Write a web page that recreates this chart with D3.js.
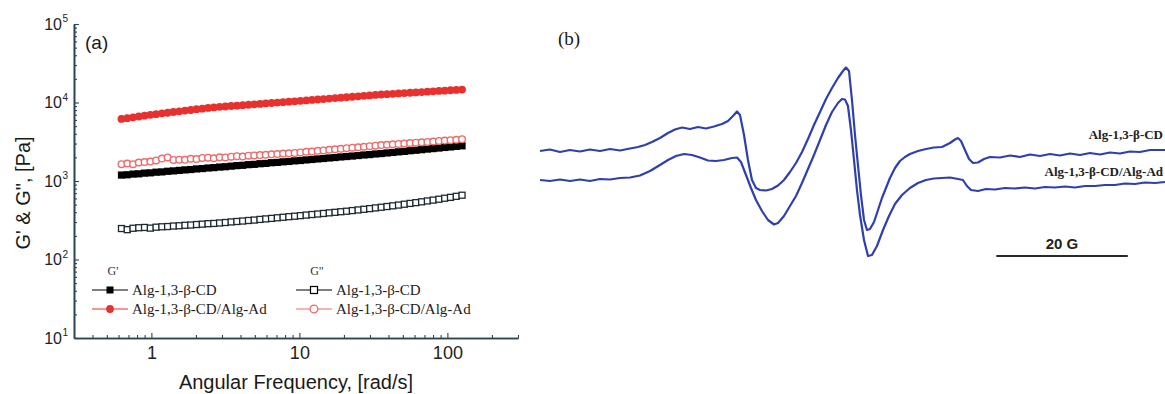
<!DOCTYPE html>
<html>
<head>
<meta charset="utf-8">
<script src="https://cdn.jsdelivr.net/npm/d3@7"></script>
<style>
  body { margin: 0; background: #fff; }
  svg { display: block; }
</style>
</head>
<body>
<div id="fig"></div>
<script>
// ---------- (a) frequency sweep ----------
let freq = [0.628, 0.687, 0.752, 0.822, 0.899, 0.984, 1.076, 1.178, 1.288, 1.409,
    1.542, 1.687, 1.845, 2.018, 2.208, 2.415, 2.642, 2.891, 3.162, 3.459,
    3.784, 4.140, 4.529, 4.955, 5.420, 5.929, 6.486, 7.096, 7.762, 8.492,
    9.290, 10.16, 11.12, 12.16, 13.30, 14.55, 15.92, 17.42, 19.05, 20.84,
    22.80, 24.95, 27.29, 29.85, 32.66, 35.73, 39.08, 42.76, 46.77, 51.17,
    55.98, 61.24, 66.99, 73.28, 80.17, 87.70, 95.94, 104.96, 114.8, 125.6];

// G' Alg-1,3-β-CD (filled squares)
let gpAlg = [1190, 1200, 1225, 1235, 1260, 1270, 1295, 1305, 1330, 1345,
    1365, 1385, 1400, 1425, 1440, 1465, 1480, 1505, 1520, 1545,
    1570, 1585, 1615, 1630, 1660, 1675, 1710, 1725, 1755, 1775,
    1805, 1825, 1855, 1880, 1910, 1935, 1965, 1990, 2025, 2050,
    2080, 2110, 2145, 2170, 2210, 2235, 2275, 2310, 2350, 2385,
    2430, 2465, 2505, 2550, 2585, 2630, 2675, 2715, 2760, 2805];

// G' Alg-1,3-β-CD/Alg-Ad (filled circles)
let gpAlgAd = [6170, 6320, 6480, 6630, 6800, 6960, 7110, 7270, 7400, 7570,
    7710, 7880, 8030, 8210, 8350, 8540, 8660, 8800, 8890, 9020,
    9110, 9250, 9360, 9480, 9600, 9720, 9850, 9970, 10090, 10240,
    10350, 10500, 10640, 10780, 10920, 11060, 11230, 11370, 11510, 11660,
    11840, 11990, 12160, 12310, 12470, 12650, 12760, 12910, 13040, 13180,
    13310, 13450, 13590, 13740, 13870, 14030, 14150, 14330, 14450, 14620];

// G" Alg-1,3-β-CD (open squares)
let gppAlg = [248, 240, 250, 254, 256, 251, 258, 261, 263, 267,
    269, 273, 275, 279, 282, 286, 288, 292, 296, 301,
    305, 309, 314, 318, 324, 329, 334, 340, 345, 351,
    356, 362, 368, 374, 380, 386, 393, 399, 406, 412,
    420, 428, 436, 445, 454, 463, 473, 483, 494, 506,
    518, 530, 543, 557, 571, 586, 603, 619, 638, 659];

// G" Alg-1,3-β-CD/Alg-Ad (open circles)
let gppAlgAd = [1640, 1670, 1640, 1720, 1740, 1770, 1830, 1930, 1995, 1855,
    1870, 1860, 1920, 1905, 1970, 1985, 1950, 2005, 1995, 2040,
    2070, 2050, 2100, 2120, 2140, 2160, 2190, 2205, 2240, 2250,
    2280, 2315, 2355, 2375, 2420, 2455, 2500, 2535, 2570, 2620,
    2655, 2690, 2730, 2780, 2820, 2870, 2895, 2940, 2965, 3005,
    3040, 3075, 3110, 3150, 3185, 3235, 3275, 3310, 3355, 3410];

let xMajor = [1, 10, 100];
let xMinor = [0.4, 0.5, 0.6, 0.7, 0.8, 0.9, 2, 3, 4, 5, 6, 7, 8, 9,
    20, 30, 40, 50, 60, 70, 80, 90, 200, 300];
let yMajor = [10, 100, 1000, 10000, 100000];
let yMinor = [20, 30, 40, 50, 60, 70, 80, 90, 200, 300, 400, 500, 600, 700, 800, 900,
    2000, 3000, 4000, 5000, 6000, 7000, 8000, 9000,
    20000, 30000, 40000, 50000, 60000, 70000, 80000, 90000];

let legendHeads = ["G'", 'G"'];
let legendNames = ["Alg-1,3-β-CD", "Alg-1,3-β-CD/Alg-Ad"];

// ---------- (b) ESR spectra, field in G, signal in a.u. ----------
let topField = [0, 1.52, 3.04, 4.56, 6.08, 7.60, 9.13, 10.65, 12.17, 13.69,
    14.90, 15.97, 17.03, 18.25, 19.47, 20.53, 21.60, 22.81, 24.03, 25.25,
    26.46, 27.68, 28.59, 29.35, 29.96, 30.42, 31.03, 31.63, 32.24, 32.85,
    33.46, 34.37, 35.28, 36.20, 37.11, 38.02, 38.94, 39.85, 40.76, 41.67,
    42.59, 43.50, 44.41, 45.32, 46.08, 46.54, 47.00, 47.45, 47.91, 48.36,
    48.82, 49.28, 49.73, 50.19, 50.80, 51.41, 52.01, 52.62, 53.23, 53.99,
    54.75, 55.51, 56.27, 57.49, 58.71, 59.92, 61.14, 62.36, 63.12, 63.57,
    64.03, 64.64, 65.25, 65.86, 66.62, 67.53, 68.44, 69.96, 71.48, 73.00,
    74.52, 76.05, 77.57, 79.09, 80.61, 82.13, 83.65, 85.17, 86.69, 88.21,
    89.73, 91.25, 92.78, 95.06];
let topSignal = [24.5, 25.25, 24, 25, 24.25, 25.25, 24.5, 25.5, 24.75, 25.75,
    26.5, 27.5, 29, 31, 33.5, 35.25, 36.25, 35.5, 36.5, 35.75,
    36.75, 38, 39.5, 42, 44.25, 42.5, 32.5, 20, 10, 6,
    5, 4.75, 5.5, 7.25, 10, 14, 18.5, 24, 30.5, 37.5,
    44, 50.5, 56, 61, 64.5, 66.25, 64.5, 50, 32.5, 17.5,
    2.5, -10, -15, -14.5, -11, -5, 1, 6, 11, 16,
    19.5, 21.5, 23, 24.5, 25.5, 26.25, 26.5, 28.5, 30.25, 31,
    29.5, 25, 20.5, 18.5, 18.75, 20.5, 21.5, 21.25, 22.25, 21.5,
    22.75, 22, 23, 22.25, 23.25, 22.5, 23.5, 22.75, 23.75, 23.25,
    24.25, 24, 25, 25];

let botField = [0, 1.52, 3.04, 4.56, 6.08, 7.60, 9.13, 10.65, 12.17, 13.69,
    15.21, 16.73, 18.25, 19.47, 20.68, 21.90, 23.12, 24.33, 25.55, 26.77,
    27.98, 29.20, 29.96, 30.57, 31.33, 32.09, 32.85, 33.76, 34.68, 35.59,
    36.20, 37.11, 38.02, 38.94, 39.85, 40.76, 41.67, 42.59, 43.50, 44.41,
    45.32, 45.93, 46.39, 46.84, 47.30, 47.76, 48.21, 48.67, 49.28, 49.89,
    50.49, 51.25, 52.17, 53.08, 53.99, 55.06, 56.27, 57.49, 58.71, 59.92,
    61.14, 62.36, 63.57, 64.33, 64.94, 65.55, 66.62, 67.83, 69.20, 70.72,
    72.24, 73.76, 75.28, 76.81, 78.33, 79.85, 81.37, 82.89, 84.41, 85.93,
    87.45, 88.97, 90.49, 92.01, 93.54, 95.06];
let botSignal = [10, 9.5, 10.25, 9.5, 10.25, 9.5, 10.5, 10.25, 11, 11.25,
    12.25, 14.5, 17.5, 20, 22, 23, 22.5, 21.25, 19.75, 19.5,
    20, 21, 21.25, 19, 12.5, 6, 0, -5.5, -10, -12.25,
    -11.5, -8, -3, 2, 8.5, 15.5, 22.5, 30, 37.5, 44,
    48.5, 50.5, 50.25, 47, 35, 20, 5, -7.5, -20, -28,
    -27.5, -23, -15, -8, -2, 2.5, 6, 8.5, 10, 10.75,
    11, 11.25, 10.5, 10, 7, 5, 4.5, 5.5, 5.25, 6,
    5.75, 6.25, 5.75, 6.5, 6.25, 6.75, 6.25, 7, 7, 7.5,
    7.5, 8.25, 8, 8.75, 8.5, 9];

let traceNames = ["Alg-1,3-β-CD", "Alg-1,3-β-CD/Alg-Ad"];
let scaleBarStart = 69.4;   // G
let scaleBarLength = 20;    // G

// ---------- drawing ----------
const W = 1165, H = 394;
const sans = "'Liberation Sans', Arial, sans-serif";
const serif = "'Liberation Serif', 'Times New Roman', serif";
const axisColor = "#2d4650";
const red = "#e8312e";
const pink = "#ef6a6a";
const blue = "#2f40ad";

let svg = d3.select("#fig").append("svg")
    .attr("width", W)
    .attr("height", H)
    .style("background", "#fff");

// panel (a)
let xA = d3.scaleLog().domain([0.3, 300]).range([74, 518]);
let yA = d3.scaleLog().domain([10, 100000]).range([338, 24]);

function styleAxis(g) {
    g.select(".domain").attr("stroke", axisColor).attr("stroke-width", 1.6);
    g.selectAll(".tick line").attr("stroke", axisColor).attr("stroke-width", 1.1);
}

svg.append("g")
    .attr("transform", "translate(0,338)")
    .call(d3.axisBottom(xA).tickValues(xMinor).tickSize(-3).tickSizeOuter(0).tickFormat(""))
    .call(styleAxis);

svg.append("g")
    .attr("transform", "translate(0,338)")
    .call(d3.axisBottom(xA).tickValues(xMajor).tickSize(-5).tickSizeOuter(0)
        .tickPadding(8).tickFormat(d3.format("d")))
    .call(styleAxis)
    .call(g => g.selectAll("text")
        .attr("fill", "#222")
        .style("font-family", sans)
        .style("font-size", "18px"));

svg.append("g")
    .attr("transform", "translate(74,0)")
    .call(d3.axisLeft(yA).tickValues(yMinor).tickSize(-3).tickSizeOuter(0).tickFormat(""))
    .call(styleAxis);

svg.append("g")
    .attr("transform", "translate(74,0)")
    .call(d3.axisLeft(yA).tickValues(yMajor).tickSize(-5).tickSizeOuter(0).tickFormat(""))
    .call(styleAxis);

// y labels as 10 with superscript exponent
let yLab = svg.append("g").selectAll("g")
    .data(yMajor)
    .join("g")
    .attr("transform", d => `translate(62,${yA(d)})`);
yLab.append("text")
    .attr("text-anchor", "end")
    .attr("dy", "0.36em")
    .attr("fill", "#222")
    .style("font-family", sans)
    .style("font-size", "16px")
    .text("10");
yLab.append("text")
    .attr("x", 0.5)
    .attr("y", -2)
    .attr("fill", "#222")
    .style("font-family", sans)
    .style("font-size", "10px")
    .text(d => Math.round(Math.log10(d)));

svg.append("text")
    .attr("x", 296)
    .attr("y", 389)
    .attr("text-anchor", "middle")
    .attr("fill", "#1a1a1a")
    .style("font-family", sans)
    .style("font-size", "20px")
    .text("Angular Frequency, [rad/s]");

svg.append("text")
    .attr("transform", "translate(30,193) rotate(-90)")
    .attr("text-anchor", "middle")
    .attr("fill", "#1a1a1a")
    .style("font-family", sans)
    .style("font-size", "20px")
    .text('G\' & G", [Pa]');

svg.append("text")
    .attr("x", 85)
    .attr("y", 49)
    .attr("fill", "#1a1a1a")
    .style("font-family", sans)
    .style("font-size", "19px")
    .text("(a)");

// markers
let pts = arr => freq.map((f, i) => ({ f: f, v: arr[i] }));

svg.append("g").selectAll("rect")
    .data(pts(gppAlg))
    .join("rect")
    .attr("x", d => xA(d.f) - 3)
    .attr("y", d => yA(d.v) - 3)
    .attr("width", 6)
    .attr("height", 6)
    .attr("fill", "#fff")
    .attr("stroke", "#1c2a30")
    .attr("stroke-width", 1.3);

svg.append("g").selectAll("rect")
    .data(pts(gpAlg))
    .join("rect")
    .attr("x", d => xA(d.f) - 3.6)
    .attr("y", d => yA(d.v) - 3.6)
    .attr("width", 7.2)
    .attr("height", 7.2)
    .attr("fill", "#000");

svg.append("g").selectAll("circle")
    .data(pts(gppAlgAd))
    .join("circle")
    .attr("cx", d => xA(d.f))
    .attr("cy", d => yA(d.v))
    .attr("r", 3.3)
    .attr("fill", "#fff")
    .attr("stroke", pink)
    .attr("stroke-width", 1.4);

svg.append("g").selectAll("circle")
    .data(pts(gpAlgAd))
    .join("circle")
    .attr("cx", d => xA(d.f))
    .attr("cy", d => yA(d.v))
    .attr("r", 3.9)
    .attr("fill", red);

// legend
let legendItems = [
    { col: 0, row: 0, name: legendNames[0], line: "#000", shape: "sq", fill: "#000" },
    { col: 0, row: 1, name: legendNames[1], line: red, shape: "ci", fill: red },
    { col: 1, row: 0, name: legendNames[0], line: "#000", shape: "sq", fill: "#fff" },
    { col: 1, row: 1, name: legendNames[1], line: pink, shape: "ci", fill: "#fff" }
];
let colX = [92, 296];
let rowY = [290, 309];

svg.append("g").selectAll("text")
    .data(legendHeads)
    .join("text")
    .attr("x", (d, i) => colX[i] + 21)
    .attr("y", 275)
    .attr("text-anchor", "middle")
    .attr("fill", "#333")
    .style("font-family", serif)
    .style("font-size", "12px")
    .text(d => d);

let li = svg.append("g").selectAll("g")
    .data(legendItems)
    .join("g")
    .attr("transform", d => `translate(${colX[d.col]},${rowY[d.row]})`);
li.append("line")
    .attr("x1", 0).attr("x2", 36)
    .attr("stroke", d => d.line)
    .attr("stroke-width", 1.2);
li.filter(d => d.shape === "sq").append("rect")
    .attr("x", 18 - 3.5).attr("y", -3.5)
    .attr("width", 7).attr("height", 7)
    .attr("fill", d => d.fill)
    .attr("stroke", "#000")
    .attr("stroke-width", d => d.fill === "#fff" ? 1.2 : 0);
li.filter(d => d.shape === "ci").append("circle")
    .attr("cx", 18).attr("r", 3.9)
    .attr("fill", d => d.fill)
    .attr("stroke", d => d.line)
    .attr("stroke-width", d => d.fill === "#fff" ? 1.3 : 0);
li.append("text")
    .attr("x", 40)
    .attr("y", 5)
    .attr("fill", "#222")
    .style("font-family", serif)
    .style("font-size", "15px")
    .text(d => d.name);

// panel (b)
let xB = d3.scaleLinear().domain([0, 95.06]).range([540, 1165]);
let yB = d3.scaleLinear().domain([-30, 70]).range([260, 60]);

let line = d3.line()
    .x(d => xB(d.b))
    .y(d => yB(d.s));

let traces = [
    topField.map((b, i) => ({ b: b, s: topSignal[i] })),
    botField.map((b, i) => ({ b: b, s: botSignal[i] }))
];

svg.append("g").selectAll("path")
    .data(traces)
    .join("path")
    .attr("d", line)
    .attr("fill", "none")
    .attr("stroke", blue)
    .attr("stroke-width", 2.2)
    .attr("stroke-linejoin", "round");

svg.append("g").selectAll("text")
    .data(traceNames)
    .join("text")
    .attr("x", 1163)
    .attr("y", (d, i) => i === 0 ? 138.5 : 176)
    .attr("text-anchor", "end")
    .attr("fill", "#222")
    .style("font-family", serif)
    .style("font-weight", "bold")
    .style("font-size", "13px")
    .text(d => d);

svg.append("line")
    .attr("x1", xB(scaleBarStart))
    .attr("x2", xB(scaleBarStart + scaleBarLength))
    .attr("y1", yB(-28))
    .attr("y2", yB(-28))
    .attr("stroke", "#2a2a2a")
    .attr("stroke-width", 2.2);

svg.append("text")
    .attr("x", xB(scaleBarStart + scaleBarLength / 2))
    .attr("y", yB(-28) - 7)
    .attr("text-anchor", "middle")
    .attr("fill", "#222")
    .style("font-family", sans)
    .style("font-weight", "bold")
    .style("font-size", "15px")
    .text(scaleBarLength + " G");

svg.append("text")
    .attr("x", 558)
    .attr("y", 45)
    .attr("fill", "#1a1a1a")
    .style("font-family", serif)
    .style("font-size", "19px")
    .text("(b)");
</script>
</body>
</html>
